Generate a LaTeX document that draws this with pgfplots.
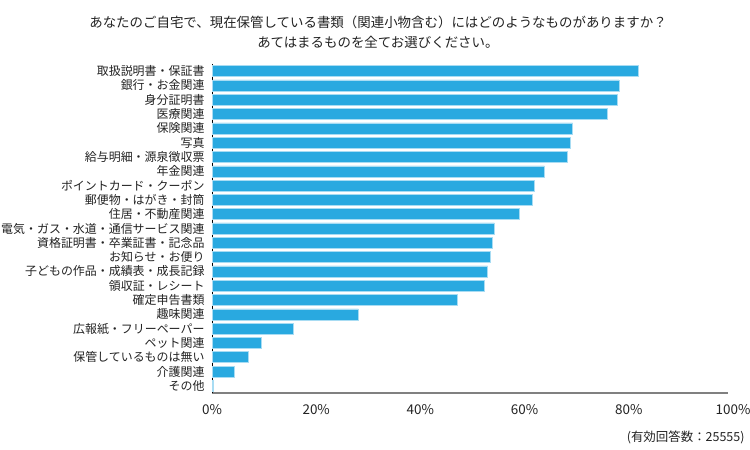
\documentclass[border=0pt]{standalone}
\usepackage{fontspec}
\setmainfont{Noto Sans CJK JP}
\usepackage{pgfplots}
\pgfplotsset{compat=1.18}
\definecolor{barblue}{HTML}{29A9E0}
\definecolor{baredge}{HTML}{A8DCF3}
\definecolor{axgray}{HTML}{808080}
\definecolor{txt}{HTML}{222222}
\begin{document}
\begin{tikzpicture}[x=1bp,y=1bp]
\useasboundingbox (0,0) rectangle (750,450);
\begin{axis}[
  at={(212bp,57bp)}, anchor=south west,
  scale only axis, width=521bp, height=329bp,
  xmin=0, xmax=100,
  ymin=-0.5, ymax=22.5, y dir=reverse,
  axis x line*=bottom, axis y line*=left,
  x axis line style={axgray, line width=1.3pt, -, shorten >=5bp},
  y axis line style={black, line width=0.8pt, -},
  xtick={0,20,...,100},
  xticklabel={\pgfmathprintnumber{\tick}\%},
  xticklabel style={font=\fontsize{13.5}{13.5}\selectfont, text=txt, yshift=-8bp},
  ytick={0,...,22},
  yticklabels={取扱説明書・保証書,銀行・お金関連,身分証明書,医療関連,保険関連,写真,給与明細・源泉徴収票,年金関連,ポイントカード・クーポン,郵便物・はがき・封筒,住居・不動産関連,電気・ガス・水道・通信サービス関連,資格証明書・卒業証書・記念品,お知らせ・お便り,子どもの作品・成績表・成長記録,領収証・レシート,確定申告書類,趣味関連,広報紙・フリーペーパー,ペット関連,保管しているものは無い,介護関連,その他},
  yticklabel style={font=\fontsize{12}{12}\selectfont, text=txt, xshift=-4bp},
  major tick length=0pt,
  /pgf/number format/assume math mode=true,
  xbar, bar width=11bp, bar shift=0pt,
  clip=false,
]
\addplot[fill=barblue, draw=baredge, line width=0.5pt] coordinates {
(81.8,0) (78.1,1) (77.7,2) (75.9,3) (69.2,4) (68.8,5) (68.2,6) (63.8,7)
(61.9,8) (61.5,9) (59.0,10) (54.2,11) (53.8,12) (53.5,13) (52.9,14) (52.3,15)
(47.1,16) (28.1,17) (15.5,18) (9.4,19) (6.9,20) (4.3,21) (0.3,22)};
\end{axis}
\node[font=\fontsize{13.5}{20}\selectfont, text=txt, align=center] at (378,418)
 {あなたのご自宅で、現在保管している書類（関連小物含む）にはどのようなものがありますか？\\あてはまるものを全てお選びください。};
\node[font=\fontsize{12.5}{12.5}\selectfont, text=txt, anchor=east] at (748,13) {(有効回答数：25555)};
\end{tikzpicture}
\end{document}
